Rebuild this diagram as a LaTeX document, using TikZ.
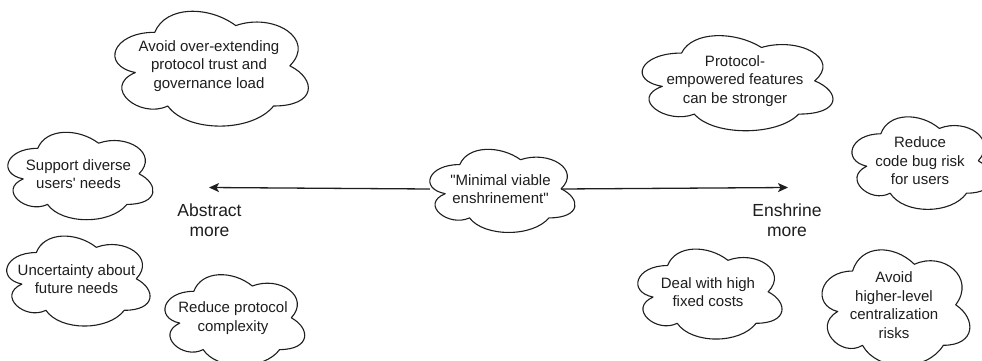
\documentclass[tikz,border=0pt]{standalone}
\usepackage{fontspec}
% no TeX ligature mapping, so quote marks stay straight
\setmainfont{Liberation Sans}[Ligatures=TeXOff]
\usetikzlibrary{arrows.meta}

\definecolor{ink}{HTML}{1E1E1E}

\tikzset{
  cloudtext/.style={inner sep=0pt, align=center, text=ink,
    font=\fontsize{15}{18.5}\selectfont},
  cloudline/.style={draw=ink, line width=1.1pt, line join=round},
  sidelabel/.style={inner sep=0pt, align=center, text=ink,
    font=\fontsize{17.5}{20}\selectfont},
  axis/.style={draw=ink, line width=1.3pt,
    -{Stealth[length=10pt, width=9pt, inset=2.5pt]}},
}

% Cloud outline (draw.io cloud curve) around a named node of size #2 x #3 pt
\newcommand\cloudoutline[3]{%
  \draw[cloudline, shift={(#1.north west)}, x=#2pt, y=-#3pt]
    (0.25,0.25) .. controls (0.05,0.25) and (0,0.5) .. (0.16,0.55)
    .. controls (0,0.66) and (0.18,0.9) .. (0.31,0.8)
    .. controls (0.4,1) and (0.7,1) .. (0.8,0.8)
    .. controls (1,0.8) and (1,0.6) .. (0.875,0.5)
    .. controls (1,0.3) and (0.8,0.1) .. (0.625,0.2)
    .. controls (0.5,0.05) and (0.3,0.05) .. cycle;}

% Cloud with text: name, center, width, height, text
\newcommand\cloudat[5]{%
  \node[cloudtext, minimum width=#3pt, minimum height=#4pt] (#1) at (#2) {#5};
  \cloudoutline{#1}{#3}{#4}}

\begin{document}
\begin{tikzpicture}[x=1pt, y=-1pt]
  \clip (0,0) rectangle (982,361);
  \fill[white] (0,0) rectangle (982,361);

  % left-hand side: reasons to abstract
  \cloudat{overext}{209,66}{216}{134}{Avoid over-extending\\protocol trust and\\governance load}
  \cloudat{diverse}{78.5,174}{162}{102}{Support diverse\\users' needs}
  \cloudat{uncert}{76.5,279}{160}{105}{Uncertainty about\\future needs}
  \cloudat{complex}{233,318}{156}{106}{Reduce protocol\\complexity}

  % middle
  \cloudat{mve}{500.5,189}{162}{97}{"Minimal viable\\enshrinement"}

  % right-hand side: reasons to enshrine
  \cloudat{stronger}{735,81}{213}{111}{Protocol-\\empowered features\\can be stronger}
  \cloudat{codebug}{920,161}{156}{108}{Reduce\\code bug risk\\for users}
  \cloudat{fixed}{708,292}{161}{105}{Deal with high\\fixed costs}
  \cloudat{central}{894,305}{165}{135}{Avoid\\higher-level\\centralization\\risks}

  % axis labels
  \node[sidelabel] (abstract) at (209.5,220.5) {Abstract\\more};
  \node[sidelabel] (enshrine) at (787,220) {Enshrine\\more};

  % axis arrows
  \coordinate (lefttip) at (209,187.5);
  \coordinate (righttip) at (788,187.5);
  \draw[axis] ([xshift=10.5pt]mve.west) -- (lefttip);
  \draw[axis] ([xshift=-20pt]mve.east) -- (righttip);
\end{tikzpicture}
\end{document}
